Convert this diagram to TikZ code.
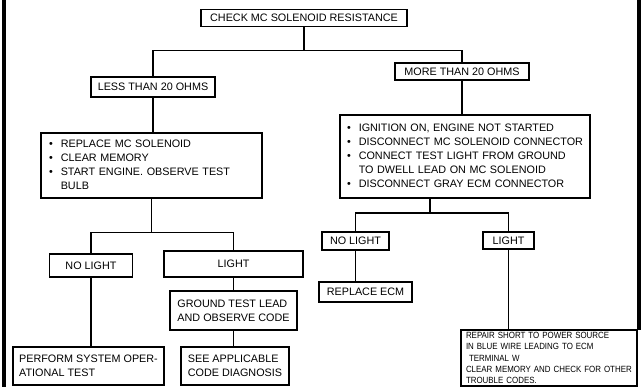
\documentclass[tikz,border=0pt]{standalone}
\usepackage{fontspec}
\setmainfont{Liberation Sans}
\newfontfamily\narrowfont[FakeStretch=0.88]{Liberation Sans}
\usepackage{tikz}

\begin{document}
\begin{tikzpicture}[x=1pt, y=-1pt,
    box/.style={draw, rectangle, line width=1.3pt, inner sep=0pt, font=\fontsize{10.8}{14}\selectfont},
    listbox/.style={box, align=left, inner xsep=8pt},
    wire/.style={line width=1.2pt}]
            \useasboundingbox (0,0) rectangle (642,387);

            % Frame
            \draw[line width=4pt] (4,0) -- (4,387);
            \draw[line width=4pt] (639,0) -- (639,330);

            % Top level - Resistance check
            \node[box, minimum width=206pt, minimum height=17pt] (check) at (304,18) {CHECK MC SOLENOID RESISTANCE};

            % Second level - Reading
            \node[box, minimum width=124pt, minimum height=20pt] (less) at (153,87) {LESS THAN 20 OHMS};
            \node[box, minimum width=134pt, minimum height=17pt] (more) at (462,71.5) {MORE THAN 20 OHMS};

            % Third level - Actions
            \node[listbox, text width=205pt, minimum height=65pt] (solenoid) at (151.5,165.5) {%
              \begin{tabular}{@{}l@{\hspace{8pt}}l@{}}
                \textbullet & REPLACE MC SOLENOID\\
                \textbullet & CLEAR MEMORY\\
                \textbullet & START ENGINE. OBSERVE TEST\\
                            & BULB
              \end{tabular}};
            \node[listbox, inner xsep=7pt, text width=236pt, minimum height=83pt] (ignition) at (465,156.5) {%
              \begin{tabular}{@{}l@{\hspace{8pt}}l@{}}
                \textbullet & IGNITION ON, ENGINE NOT STARTED\\
                \textbullet & DISCONNECT MC SOLENOID CONNECTOR\\
                \textbullet & CONNECT TEST LIGHT FROM GROUND\\
                            & TO DWELL LEAD ON MC SOLENOID\\
                \textbullet & DISCONNECT GRAY ECM CONNECTOR
              \end{tabular}};

            % Fourth level - Test bulb (left)
            \node[box, minimum width=83pt, minimum height=23pt] (nolightA) at (91,265.5) {NO LIGHT};
            \node[box, minimum width=139pt, minimum height=26pt] (lightA) at (233.5,264) {LIGHT};
            \node[box, align=left, minimum width=127pt, minimum height=39pt] (ground) at (233.5,310.5) {GROUND TEST LEAD\\AND OBSERVE CODE};

            % Fourth level - Test light (right)
            \node[box, minimum width=67pt, minimum height=18pt] (nolightB) at (355.5,241) {NO LIGHT};
            \node[box, minimum width=51pt, minimum height=17pt] (lightB) at (508.5,240.5) {LIGHT};
            \node[box, minimum width=93pt, minimum height=20pt] (ecm) at (365.5,292) {REPLACE ECM};

            % Bottom level - Results
            \node[box, align=left, minimum width=151pt, minimum height=38pt] (perform) at (88.5,366) {PERFORM SYSTEM OPER-\\ATIONAL TEST};
            \node[box, align=left, minimum width=108pt, minimum height=38pt] (see) at (235,366) {SEE APPLICABLE\\CODE DIAGNOSIS};
            \node[listbox, inner xsep=5pt, text width=166pt, minimum height=56pt, font=\narrowfont\fontsize{9}{11.2}\selectfont] (repair) at (549,358) {%
              REPAIR SHORT TO POWER SOURCE\\
              IN BLUE WIRE LEADING TO ECM\\
              \hspace*{3pt}TERMINAL W\\
              CLEAR MEMORY AND CHECK FOR OTHER\\
              TROUBLE CODES.};

            % Lines
            \draw[wire] (check.south) -- ++(0,23.5) coordinate (split1);
            \draw[wire] (less.north) |- (split1) -| (more.north);
            \draw[wire] (less.south) -- (less.south |- solenoid.north);
            \draw[wire] (more.south) -- (more.south |- ignition.north);
            \draw[wire] (solenoid.south) -- ++(0,34) coordinate (split2);
            \draw[wire] (nolightA.north) |- (split2) -| (lightA.north);
            \draw[wire] (nolightA.south) -- (nolightA.south |- perform.north);
            \draw[wire] (lightA.south) -- (lightA.south |- ground.north);
            \draw[wire] (ground.south) -- (ground.south |- see.north);
            \coordinate (split3) at (430,213);
            \draw[wire] (ignition.south -| split3) -- (split3);
            \draw[wire] (nolightB.north) |- (split3) -| (lightB.north);
            \draw[wire] (nolightB.south) -- (nolightB.south |- ecm.north);
            \draw[wire] (lightB.south) -- (lightB.south |- repair.north);
        \end{tikzpicture}
\end{document}
